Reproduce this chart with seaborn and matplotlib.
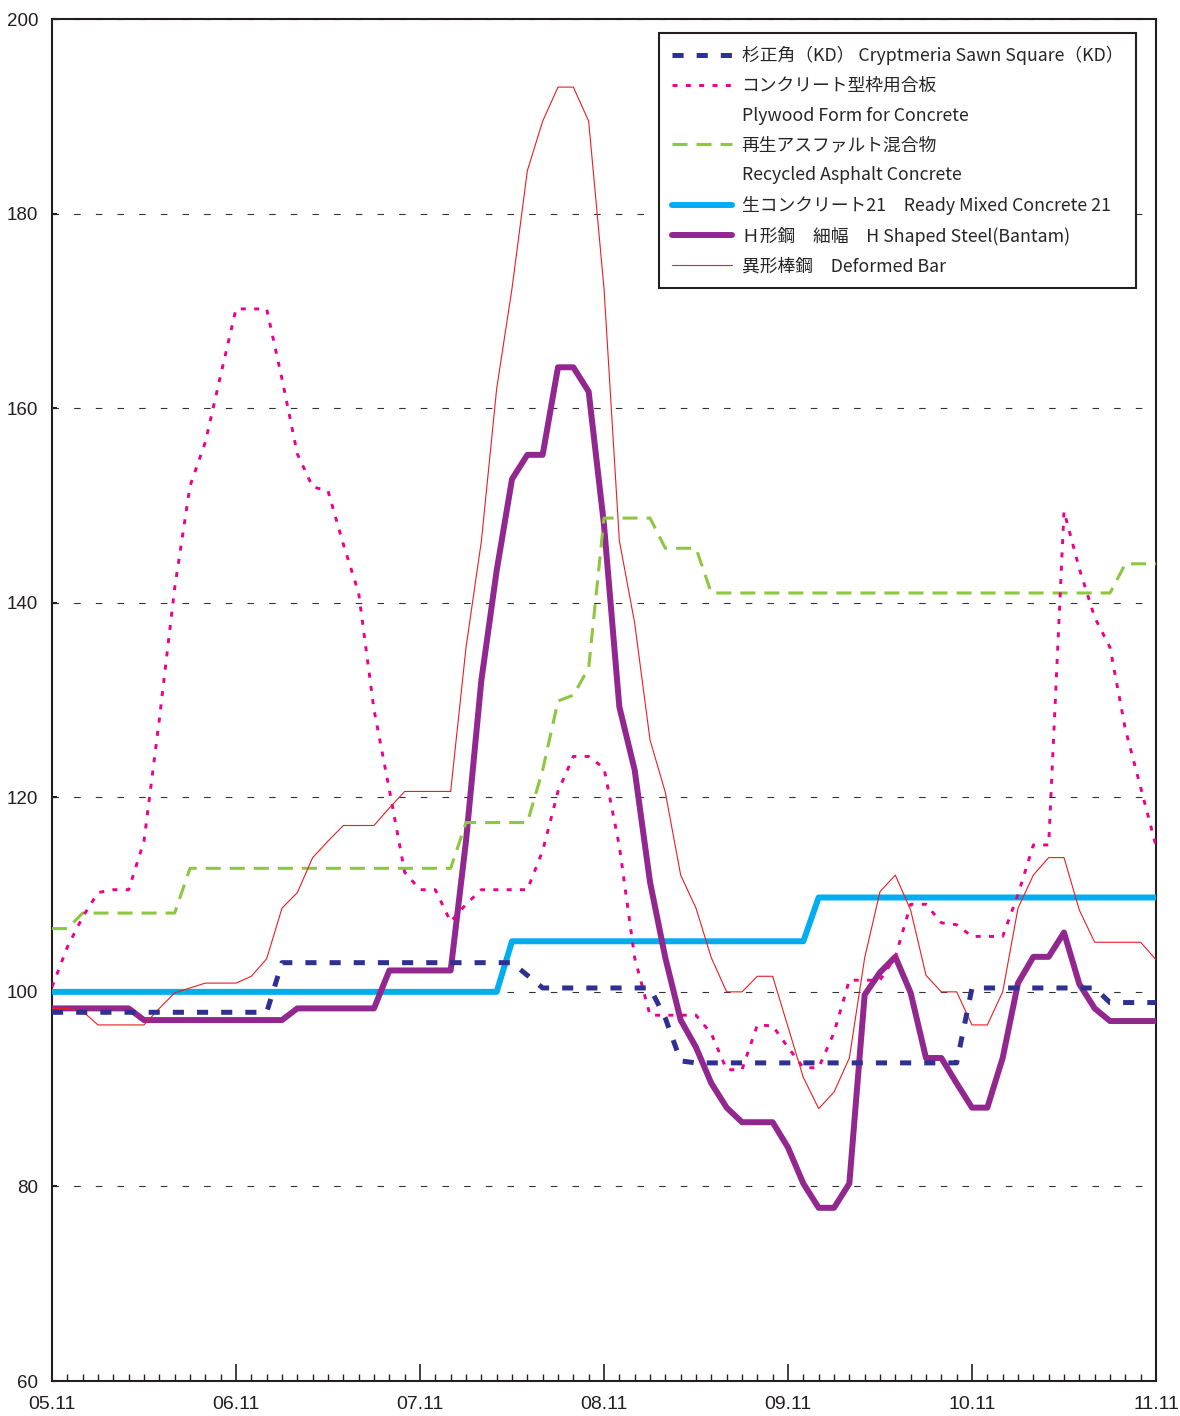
import numpy as np
import matplotlib
matplotlib.use('Agg')
import matplotlib.pyplot as plt
from matplotlib.lines import Line2D
from matplotlib.ticker import MultipleLocator
import seaborn as sns

# monthly index values, Nov 2005 .. Nov 2011 (73 months)
sugi = [97.9] * 15 + [103.0] * 16 + [101.7] + [100.4] * 8 + [97.3, 92.9] + [92.7] * 18 + [100.4] * 9 + [98.9] * 4

kata = [100.5, 104.6, 107.7, 110.2, 110.5, 110.5, 115.5, 128.0, 141.5, 152.0,
        156.5, 163.4, 170.2, 170.2, 170.2, 163.0, 155.3, 151.9, 151.5, 146.0,
        141.0, 129.0, 120.8, 112.3, 110.5, 110.5, 107.2, 109.0, 110.5, 110.5,
        110.5, 110.5, 114.5, 120.6, 124.2, 124.2, 123.0, 115.0, 103.5, 97.6,
        97.6, 97.6, 97.6, 95.7, 92.0, 92.0, 96.6, 96.5, 94.3, 92.2,
        92.2, 95.8, 101.2, 101.2, 101.2, 103.6, 109.0, 109.0, 107.1, 106.9,
        105.7, 105.7, 105.7, 110.0, 115.1, 115.1, 149.4, 143.5, 138.5, 135.4,
        127.0, 121.0, 115.0]

saisei = [106.5, 106.5] + [108.1] * 7 + [112.7] * 18 + [117.4] * 5 + [122.8, 129.9, 130.5, 133.3] \
    + [148.7] * 4 + [145.6] * 3 + [141.0] * 27 + [144.0] * 3

nama = [100.0] * 30 + [105.2] * 20 + [109.7] * 23

hkou = [98.3] * 6 + [97.1] * 10 + [98.3] * 6 + [102.2] * 5 + [
    115.5, 132.0, 143.3, 152.7, 155.2, 155.2, 164.2, 164.2, 161.7, 148.0,
    129.3, 122.8, 111.3, 103.5, 97.1, 94.3, 90.6, 88.1, 86.6, 86.6,
    86.6, 84.0, 80.3, 77.8, 77.8, 80.3, 99.7, 102.0, 103.6, 99.9,
    93.2, 93.2, 90.6, 88.1, 88.1, 93.2, 100.9, 103.6, 103.6, 106.1,
    100.8, 98.3] + [97.0] * 4

ikei = [98.3, 98.3, 98.0, 96.6, 96.6, 96.6, 96.6, 98.3, 99.9, 100.4,
        100.9, 100.9, 100.9, 101.6, 103.4, 108.6, 110.2, 113.8, 115.5, 117.1,
        117.1, 117.1, 118.9, 120.6, 120.6, 120.6, 120.6, 135.4, 146.3, 162.0,
        172.3, 184.4, 189.5, 193.0, 193.0, 189.5, 172.3, 146.4, 137.9, 125.9,
        120.5, 112.0, 108.6, 103.5, 100.0, 100.0, 101.6, 101.6, 96.4, 91.2,
        88.0, 89.7, 93.2, 103.5, 110.3, 112.0, 108.4, 101.7, 100.0, 100.0,
        96.6, 96.6, 100.0, 108.6, 112.0, 113.8, 113.8, 108.4, 105.1, 105.1,
        105.1, 105.1, 103.3]

year_labels = ['05.11', '06.11', '07.11', '08.11', '09.11', '10.11', '11.11']

labels = ['杉正角（KD） Cryptmeria Sawn Square（KD）',
          'コンクリート型枠用合板', 'Plywood Form for Concrete',
          '再生アスファルト混合物', 'Recycled Asphalt Concrete',
          '生コンクリート21　Ready Mixed Concrete 21',
          'Ｈ形鋼　細幅　H Shaped Steel(Bantam)',
          '異形棒鋼　Deformed Bar']

sns.set_style('ticks')
plt.rcParams['lines.scale_dashes'] = False
plt.rcParams['font.family'] = ['Noto Sans CJK JP', 'DejaVu Sans']

x = np.arange(len(sugi))

fig, ax = plt.subplots(figsize=(11.8, 14.16), dpi=100)
fig.subplots_adjust(left=52 / 1180, right=1156 / 1180, bottom=35 / 1416, top=1 - 19 / 1416)

navy, pink, green, cyan, purple, red = '#2E3192', '#EC008C', '#8DC63F', '#00AEEF', '#92278F', '#ED1C24'

sns.lineplot(x=x, y=nama, color=cyan, lw=4.3, ax=ax, zorder=3)
sns.lineplot(x=x, y=hkou, color=purple, lw=4.3, ax=ax, zorder=4)
sns.lineplot(x=x, y=saisei, color=green, lw=2.2, linestyle=(0, (10.8, 6.5)), ax=ax, zorder=5)
sns.lineplot(x=x, y=kata, color=pink, lw=2.1, linestyle=(0, (3.6, 6.0)), ax=ax, zorder=6)
sns.lineplot(x=x, y=ikei, color=red, lw=0.8, ax=ax, zorder=7)
sns.lineplot(x=x, y=sugi, color=navy, lw=3.6, linestyle=(0, (8.0, 9.4)), ax=ax, zorder=8)

ax.set_xlim(0, 72)
ax.set_ylim(60, 200)
ax.set_yticks(range(60, 201, 20))
ax.set_xticks(range(0, 73, 12))
ax.set_xticklabels(year_labels)
ax.xaxis.set_minor_locator(MultipleLocator(1))
ax.set_xlabel('')
ax.set_ylabel('')

ax.grid(axis='y', color='#333333', linewidth=0.8, linestyle=(0, (4.7, 10.9)))
ax.set_axisbelow(True)

for s in ax.spines.values():
    s.set_visible(True)
    s.set_color('#231F20')
    s.set_linewidth(1.5)

ax.tick_params(axis='y', direction='in', length=3.6, width=1.5, left=True, right=False,
               pad=10, labelsize=13.5, colors='#231F20')
ax.tick_params(axis='x', which='major', direction='in', length=12, width=1.2, bottom=True,
               top=False, pad=11, labelsize=14, colors='#231F20')
ax.tick_params(axis='x', which='minor', direction='in', length=5, width=1, bottom=True, top=False,
               colors='#231F20')
for lab in ax.get_xticklabels() + ax.get_yticklabels():
    lab.set_fontfamily(['Liberation Sans Narrow', 'Liberation Sans'])

blank = Line2D([], [], color='none')
handles = [
    Line2D([], [], color=navy, lw=3.6, linestyle=(0, (8.0, 9.4))),
    Line2D([], [], color=pink, lw=2.1, linestyle=(0, (3.6, 6.0))),
    blank,
    Line2D([], [], color=green, lw=2.2, linestyle=(0, (10.8, 6.5))),
    blank,
    Line2D([], [], color=cyan, lw=4.3),
    Line2D([], [], color=purple, lw=4.3),
    Line2D([], [], color=red, lw=0.8),
]
leg = ax.legend(handles, labels, loc='upper right', bbox_to_anchor=(0.9819, 0.9897),
                borderaxespad=0, frameon=True, fancybox=False, framealpha=1,
                edgecolor='#231F20', handlelength=3.375, handletextpad=0.56,
                borderpad=0.73, labelspacing=0.66,
                prop={'family': ['Noto Sans CJK JP', 'DejaVu Sans'], 'size': 12.8})
leg.get_frame().set_linewidth(1.5)
leg.set_zorder(20)

fig.savefig('out.png', dpi=100)
